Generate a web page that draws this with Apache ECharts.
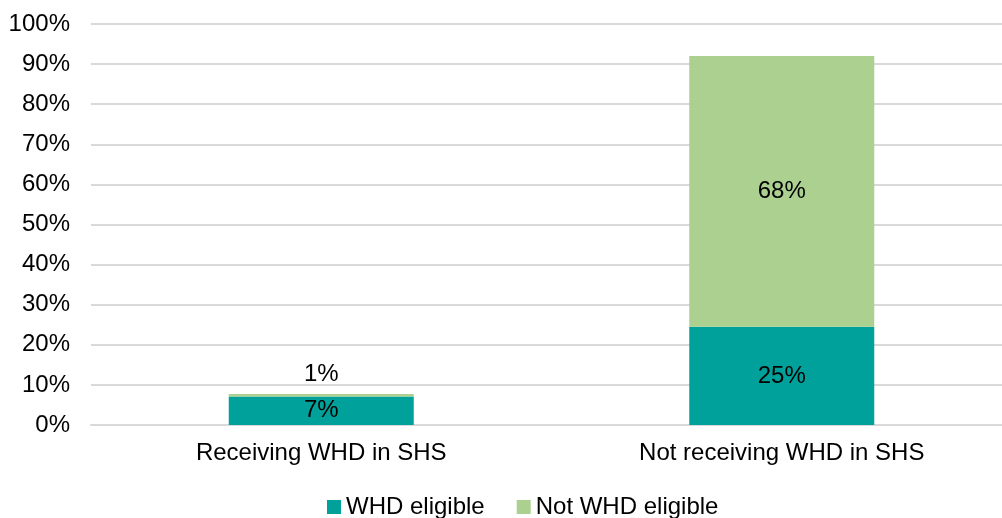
<!DOCTYPE html>
<html>
<head>
<meta charset="utf-8">
<script src="https://cdn.jsdelivr.net/npm/echarts@6/dist/echarts.min.js"></script>
<style>
    html, body { margin: 0; padding: 0; background: #fff; overflow: hidden; }
    /* plot area runs slightly past the right edge, as in the original */
    #chart { width: 1012px; height: 518px; }
</style>
</head>
<body>
<div id="chart"></div>
<script>
    // 数据
    const categories = ['Receiving WHD in SHS', 'Not receiving WHD in SHS'];
    const eligible = [7.1, 24.5];
    const notEligible = [0.6, 67.5];
    const yTicks = [0, 10, 20, 30, 40, 50, 60, 70, 80, 90, 100];

    const font = 'Liberation Sans, Arial, sans-serif';
    const fs = 24;
    let myChart = echarts.init(document.getElementById('chart'));
    myChart.setOption({
        animation: false,
        textStyle: { fontFamily: font },
        grid: { left: 91, right: 0, top: 24, height: 401 },
        legend: {
            top: 490,
            left: 322,
            itemWidth: 14,
            itemHeight: 14,
            itemGap: 32,
            icon: 'rect',
            textStyle: { fontSize: fs, color: '#000', fontFamily: font },
            data: ['WHD eligible', 'Not WHD eligible']
        },
        xAxis: {
            type: 'category',
            data: categories,
            axisLine: { lineStyle: { color: '#D9D9D9', width: 2 } },
            axisTick: { show: false },
            axisLabel: { fontSize: fs, color: '#000', margin: 16, fontFamily: font }
        },
        yAxis: {
            type: 'value',
            min: yTicks[0],
            max: yTicks[yTicks.length - 1],
            interval: 10,
            axisLine: { show: false },
            axisTick: { show: false },
            splitLine: { lineStyle: { color: '#D9D9D9', width: 2 } },
            axisLabel: { fontSize: fs, color: '#000', margin: 21, fontFamily: font,
                formatter: v => v + '%' }
        },
        series: [
            {
                name: 'WHD eligible',
                type: 'bar',
                stack: 'total',
                barWidth: 185,
                itemStyle: { color: '#00A19A' },
                label: { show: true, position: 'inside', fontSize: fs, color: '#000',
                    fontFamily: font, formatter: p => Math.round(p.value) + '%' },
                data: eligible
            },
            {
                name: 'Not WHD eligible',
                type: 'bar',
                stack: 'total',
                barWidth: 185,
                itemStyle: { color: '#ABD08F' },
                label: { show: true, fontSize: fs, color: '#000', fontFamily: font,
                    position: 'inside',
                    formatter: p => Math.round(p.value) + '%' },
                data: notEligible.map((v, i) => i === 0
                    ? { value: v, label: { position: 'top', distance: 8 } }
                    : v)
            }
        ]
    });
</script>
</body>
</html>
